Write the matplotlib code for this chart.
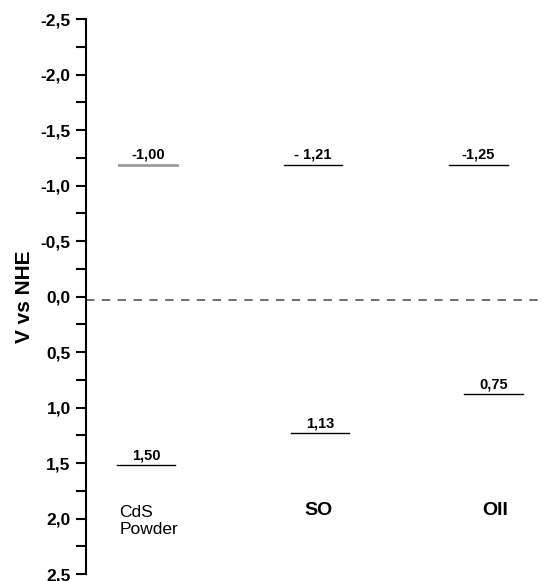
import numpy as np
import matplotlib.pyplot as plt
from matplotlib.ticker import MultipleLocator, FuncFormatter

plt.rcParams['font.family'] = ['Liberation Sans', 'DejaVu Sans']

# data
categories = ['CdS\nPowder', 'SO', 'OII']
upper_level = [-1.19, -1.19, -1.19]          # drawn positions of the upper lines
upper_text = ['-1,00', '- 1,21', '-1,25']
lower_level = [1.52, 1.23, 0.88]             # drawn positions of the lower lines
lower_text = ['1,50', '1,13', '0,75']
zero_line = 0.03

fig = plt.figure(figsize=(5.44, 5.81), dpi=100)
ax = fig.add_axes([0.158, 0.012, 0.835, 0.955])

x = np.arange(len(categories))
hw = 0.17
up_shift = [0.0, -0.04, -0.08]
lo_shift = [-0.01, 0.0, 0.01]
up_color = ['#9a9a9a', 'black', 'black']
up_width = [2.0, 1.0, 1.0]

for i in range(len(categories)):
    xc = x[i] + up_shift[i]
    ax.plot([xc - hw, xc + hw], [upper_level[i]] * 2, color=up_color[i], lw=up_width[i])
    ax.annotate(upper_text[i], (xc, upper_level[i]), xytext=(0, 2), textcoords='offset points',
                ha='center', va='bottom', fontsize=10.5, fontweight='bold')
    xc = x[i] + lo_shift[i]
    ax.plot([xc - hw, xc + hw], [lower_level[i]] * 2, color='black', lw=1.0)
    ax.annotate(lower_text[i], (xc, lower_level[i]), xytext=(0, 2), textcoords='offset points',
                ha='center', va='bottom', fontsize=10.5, fontweight='bold')

ax.axhline(zero_line, color='#555555', lw=1.2, dashes=(5, 4.5))

# category names under the lines
ax.text(x[0] - 0.165, 2.02, categories[0], ha='left', va='center', fontsize=12.5,
        linespacing=1.2)
ax.text(x[1] - 0.01, 1.93, categories[1], ha='center', va='center', fontsize=14, fontweight='bold')
ax.text(x[2] + 0.02, 1.93, categories[2], ha='center', va='center', fontsize=14, fontweight='bold')

ax.set_xlim(-0.36, 2.28)
ax.set_ylim(2.5, -2.5)
ax.yaxis.set_major_locator(MultipleLocator(0.5))
ax.yaxis.set_minor_locator(MultipleLocator(0.25))
ax.yaxis.set_major_formatter(FuncFormatter(lambda v, p: ('%.1f' % v).replace('.', ',').replace('-0,0', '0,0')))
ax.tick_params(axis='y', which='both', length=7, width=1.5, direction='out', labelsize=12.5, pad=4)
for lab in ax.get_yticklabels():
    lab.set_fontweight('bold')
ax.set_xticks([])
for s in ['top', 'right', 'bottom']:
    ax.spines[s].set_visible(False)
ax.spines['left'].set_linewidth(1.5)
ax.set_ylabel('V vs NHE', fontsize=15, fontweight='bold', labelpad=5)

fig.savefig('out.png', dpi=100)
